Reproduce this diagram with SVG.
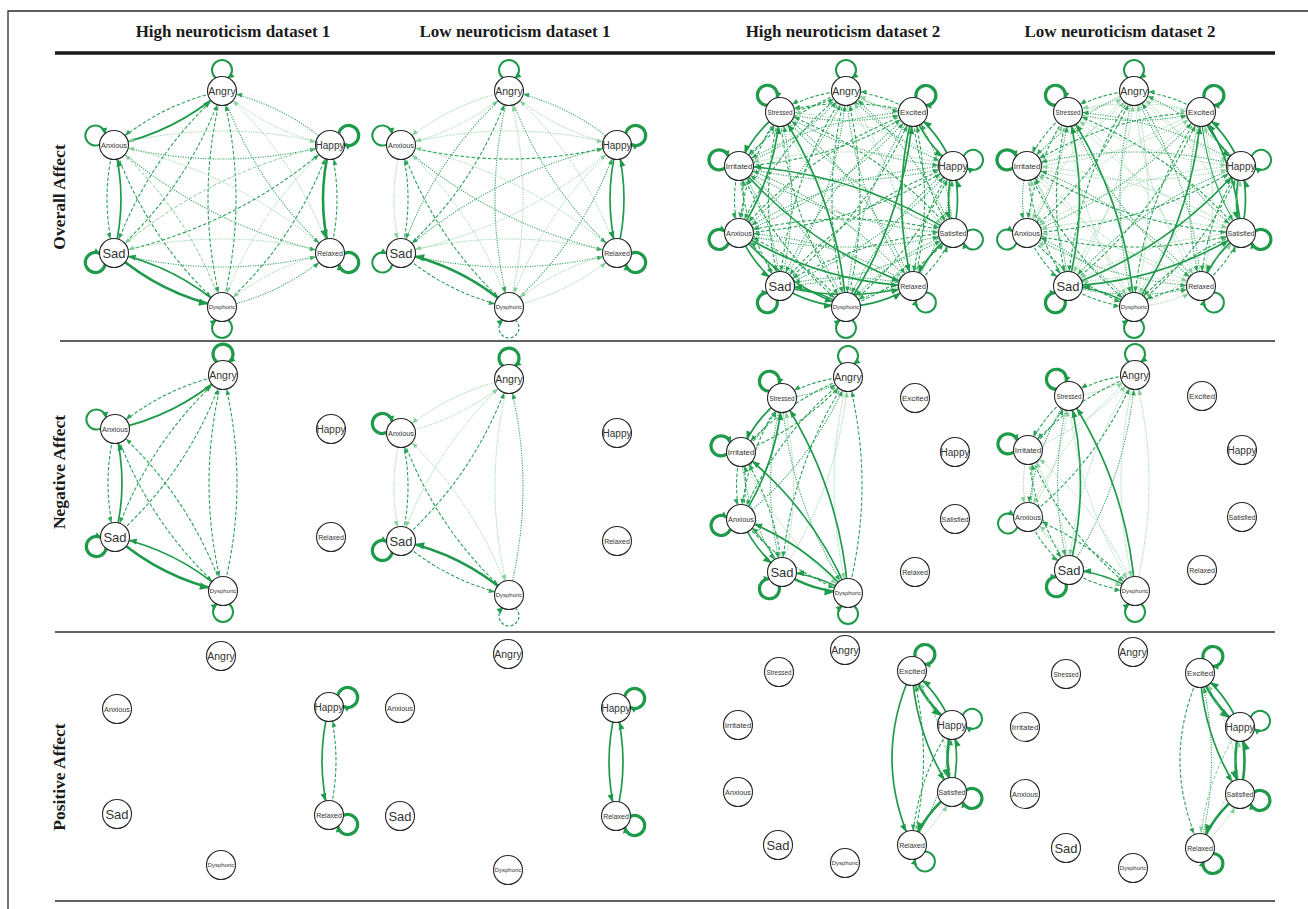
<svg xmlns="http://www.w3.org/2000/svg" width="1308" height="909" viewBox="0 0 1308 909">
<defs>
<style>
.hd{font-family:"Liberation Serif","Times New Roman",serif;font-weight:bold;font-size:17px;fill:#1a1a1a;text-anchor:middle}
.rl{font-family:"Liberation Serif","Times New Roman",serif;font-weight:bold;font-size:17.5px;fill:#1a1a1a;text-anchor:middle;dominant-baseline:central}
.fr{fill:none;stroke:#2b2b2b;stroke-width:1.3}
.tk{fill:none;stroke:#1a1a1a;stroke-width:3.4}
.nd circle{fill:#fff;stroke:#262626;stroke-width:1.1}
.nd text{font-family:"Liberation Sans",Arial,sans-serif;fill:#333;text-anchor:middle;dominant-baseline:central}
.an{font-size:10.5px}.sa{font-size:13px}.ha{font-size:10px}.ax{font-size:7.3px}.re{font-size:7px}.dy{font-size:6px}
.st{font-size:6.3px}.ex{font-size:8px}.ir{font-size:7.8px}.sf{font-size:7px}
.s3{fill:none;stroke:#1f9a4b;stroke-width:2.6;marker-end:url(#m3)}
.s2{fill:none;stroke:#1f9a4b;stroke-width:1.7;marker-end:url(#m2)}
.s1{fill:none;stroke:#2aa257;stroke-width:1.1;marker-end:url(#m1)}
.d{fill:none;stroke:#2aa257;stroke-width:1.1;stroke-dasharray:3.5 2;marker-end:url(#m1)}
.dl{fill:none;stroke:#7fcb95;stroke-width:1;stroke-dasharray:3.5 2;marker-end:url(#mL)}
.o{fill:none;stroke:#2aa257;stroke-width:1.1;stroke-dasharray:1.1 1.4;marker-end:url(#m1)}
.ol{fill:none;stroke:#86cf9c;stroke-width:1;stroke-dasharray:1.1 1.3;marker-end:url(#mL)}
.lt{fill:none;stroke:#1f9a4b;stroke-width:3.2;marker-end:url(#mlp)}
.lm{fill:none;stroke:#1f9a4b;stroke-width:2;marker-end:url(#mlp)}
.ld{fill:none;stroke:#2aa257;stroke-width:1.2;stroke-dasharray:3 2;marker-end:url(#mlp)}
</style>
<marker id="m1" markerUnits="userSpaceOnUse" orient="auto" overflow="visible" markerWidth="1" markerHeight="1" refX="0" refY="0"><path d="M-20.5,-2.3L-14.5,0L-20.5,2.3z" fill="#2aa257"/></marker>
<marker id="mL" markerUnits="userSpaceOnUse" orient="auto" overflow="visible" markerWidth="1" markerHeight="1" refX="0" refY="0"><path d="M-20.5,-2.3L-14.5,0L-20.5,2.3z" fill="#86cf9c"/></marker>
<marker id="m2" markerUnits="userSpaceOnUse" orient="auto" overflow="visible" markerWidth="1" markerHeight="1" refX="0" refY="0"><path d="M-22,-3L-14.5,0L-22,3z" fill="#1f9a4b"/></marker>
<marker id="m3" markerUnits="userSpaceOnUse" orient="auto" overflow="visible" markerWidth="1" markerHeight="1" refX="0" refY="0"><path d="M-23.5,-3.8L-14.5,0L-23.5,3.8z" fill="#1f9a4b"/></marker>
<marker id="mlp" markerUnits="userSpaceOnUse" orient="auto" overflow="visible" markerWidth="1" markerHeight="1" refX="0" refY="0"><path d="M-5.5,-3.2L0.5,0L-5.5,3.2z" fill="#1f9a4b"/></marker>
</defs>
<rect width="1308" height="909" fill="#fff"/>
<g id="frame">
<path class="fr" d="M8,909V11H1308"/>
<line class="tk" x1="55" y1="53" x2="1275" y2="53"/>
<line class="fr" x1="60" y1="341" x2="1275" y2="341"/>
<line class="fr" x1="55" y1="632" x2="1275" y2="632"/>
<line class="fr" x1="55" y1="901" x2="1275" y2="901"/>
</g>
<g id="headers">
<text class="hd" x="233" y="37">High neuroticism dataset 1</text>
<text class="hd" x="515" y="37">Low neuroticism dataset 1</text>
<text class="hd" x="843" y="37">High neuroticism dataset 2</text>
<text class="hd" x="1120" y="37">Low neuroticism dataset 2</text>
<text class="rl" transform="translate(59,197) rotate(-90)">Overall Affect</text>
<text class="rl" transform="translate(59,472) rotate(-90)">Negative Affect</text>
<text class="rl" transform="translate(59,777) rotate(-90)">Positive Affect</text>
</g>

<!-- Row 1, col 1 -->
<g id="panel-r1c1" transform="translate(222,199)">
<g id="r1c1-connectors">
<path class="d" d="M0,-108Q-61,-95 -108,-54"/>
<path class="s2" d="M-108,-54Q-47,-67 0,-108"/>
<path class="ol" d="M0,-108Q47,-67 108,-54"/>
<path class="o" d="M108,-54Q61,-95 0,-108"/>
<path class="d" d="M0,-108Q-75,-41 -108,54"/>
<path class="d" d="M-108,54Q-33,-13 0,-108"/>
<path class="o" d="M0,-108Q33,-13 108,54"/>
<path class="ol" d="M108,54Q75,-41 0,-108"/>
<path class="d" d="M0,-108Q-28,0 0,108"/>
<path class="d" d="M0,108Q28,0 0,-108"/>
<path class="o" d="M-108,-54Q0,-26 108,-54"/>
<path class="ol" d="M108,-54Q0,-82 -108,-54"/>
<path class="d" d="M-108,-54Q-122,0 -108,54"/>
<path class="s2" d="M-108,54Q-94,0 -108,-54"/>
<path class="o" d="M-108,-54Q-14,28 108,54"/>
<path class="ol" d="M108,54Q14,-28 -108,-54"/>
<path class="d" d="M-108,-54Q-75,41 0,108"/>
<path class="dl" d="M0,108Q-33,13 -108,-54"/>
<path class="dl" d="M108,-54Q-14,-28 -108,54"/>
<path class="d" d="M-108,54Q14,28 108,-54"/>
<path class="s3" d="M108,-54Q94,0 108,54"/>
<path class="d" d="M108,54Q122,0 108,-54"/>
<path class="ol" d="M108,-54Q33,13 0,108"/>
<path class="d" d="M0,108Q75,41 108,-54"/>
<path class="o" d="M-108,54Q0,82 108,54"/>
<path class="ol" d="M108,54Q0,26 -108,54"/>
<path class="s3" d="M-108,54Q-61,95 0,108"/>
<path class="s2" d="M0,108Q-47,67 -108,54"/>
<path class="ol" d="M108,54Q47,67 0,108"/>
<path class="o" d="M0,108Q61,95 108,54"/>
<path class="lm" transform="translate(0,-108) rotate(-90)" d="M13.1,-6.2A10 10 0 1 1 13.1,6.2"/>
<path class="lm" transform="translate(-108,-54) rotate(-153)" d="M13.1,-6.2A10 10 0 1 1 13.1,6.2"/>
<path class="lt" transform="translate(108,-54) rotate(-27)" d="M13.1,-6.2A10 10 0 1 1 13.1,6.2"/>
<path class="lt" transform="translate(-108,54) rotate(153)" d="M13.1,-6.2A10 10 0 1 1 13.1,6.2"/>
<path class="lt" transform="translate(108,54) rotate(27)" d="M13.1,-6.2A10 10 0 1 1 13.1,6.2"/>
<path class="lm" transform="translate(0,108) rotate(90)" d="M13.1,-6.2A10 10 0 1 1 13.1,6.2"/>
</g>
<g id="r1c1-angry" class="nd" transform="translate(0,-108)"><circle r="14.5"/><text class="an">Angry</text></g>
<g id="r1c1-anxious" class="nd" transform="translate(-108,-54)"><circle r="14.5"/><text class="ax">Anxious</text></g>
<g id="r1c1-happy" class="nd" transform="translate(108,-54)"><circle r="14.5"/><text class="ha">Happy</text></g>
<g id="r1c1-sad" class="nd" transform="translate(-108,54)"><circle r="14.5"/><text class="sa">Sad</text></g>
<g id="r1c1-relaxed" class="nd" transform="translate(108,54)"><circle r="14.5"/><text class="re">Relaxed</text></g>
<g id="r1c1-dysphoric" class="nd" transform="translate(0,108)"><circle r="14.5"/><text class="dy">Dysphoric</text></g>
</g>

<!-- Row 1, col 2 -->
<g id="panel-r1c2" transform="translate(509,199)">
<g id="r1c2-connectors">
<path class="ol" d="M0,-108Q-61,-95 -108,-54"/>
<path class="ol" d="M-108,-54Q-47,-67 0,-108"/>
<path class="ol" d="M0,-108Q47,-67 108,-54"/>
<path class="o" d="M108,-54Q61,-95 0,-108"/>
<path class="o" d="M0,-108Q-75,-41 -108,54"/>
<path class="d" d="M-108,54Q-33,-13 0,-108"/>
<path class="o" d="M0,-108Q33,-13 108,54"/>
<path class="ol" d="M108,54Q75,-41 0,-108"/>
<path class="o" d="M0,-108Q-28,0 0,108"/>
<path class="ol" d="M0,108Q28,0 0,-108"/>
<path class="d" d="M-108,-54Q0,-26 108,-54"/>
<path class="ol" d="M108,-54Q0,-82 -108,-54"/>
<path class="ol" d="M-108,-54Q-122,0 -108,54"/>
<path class="d" d="M-108,54Q-94,0 -108,-54"/>
<path class="o" d="M-108,-54Q-14,28 108,54"/>
<path class="ol" d="M108,54Q14,-28 -108,-54"/>
<path class="d" d="M-108,-54Q-75,41 0,108"/>
<path class="ol" d="M0,108Q-33,13 -108,-54"/>
<path class="o" d="M108,-54Q-14,-28 -108,54"/>
<path class="ol" d="M-108,54Q14,28 108,-54"/>
<path class="s2" d="M108,-54Q94,0 108,54"/>
<path class="s2" d="M108,54Q122,0 108,-54"/>
<path class="ol" d="M108,-54Q33,13 0,108"/>
<path class="o" d="M0,108Q75,41 108,-54"/>
<path class="o" d="M-108,54Q0,82 108,54"/>
<path class="ol" d="M108,54Q0,26 -108,54"/>
<path class="d" d="M-108,54Q-61,95 0,108"/>
<path class="s3" d="M0,108Q-47,67 -108,54"/>
<path class="ol" d="M108,54Q47,67 0,108"/>
<path class="ol" d="M0,108Q61,95 108,54"/>
<path class="lm" transform="translate(0,-108) rotate(-90)" d="M13.1,-6.2A10 10 0 1 1 13.1,6.2"/>
<path class="lm" transform="translate(-108,-54) rotate(-153)" d="M13.1,-6.2A10 10 0 1 1 13.1,6.2"/>
<path class="lt" transform="translate(108,-54) rotate(-27)" d="M13.1,-6.2A10 10 0 1 1 13.1,6.2"/>
<path class="lm" transform="translate(-108,54) rotate(153)" d="M13.1,-6.2A10 10 0 1 1 13.1,6.2"/>
<path class="lt" transform="translate(108,54) rotate(27)" d="M13.1,-6.2A10 10 0 1 1 13.1,6.2"/>
<path class="ld" transform="translate(0,108) rotate(90)" d="M13.1,-6.2A10 10 0 1 1 13.1,6.2"/>
</g>
<g id="r1c2-angry" class="nd" transform="translate(0,-108)"><circle r="14.5"/><text class="an">Angry</text></g>
<g id="r1c2-anxious" class="nd" transform="translate(-108,-54)"><circle r="14.5"/><text class="ax">Anxious</text></g>
<g id="r1c2-happy" class="nd" transform="translate(108,-54)"><circle r="14.5"/><text class="ha">Happy</text></g>
<g id="r1c2-sad" class="nd" transform="translate(-108,54)"><circle r="14.5"/><text class="sa">Sad</text></g>
<g id="r1c2-relaxed" class="nd" transform="translate(108,54)"><circle r="14.5"/><text class="re">Relaxed</text></g>
<g id="r1c2-dysphoric" class="nd" transform="translate(0,108)"><circle r="14.5"/><text class="dy">Dysphoric</text></g>
</g>

<!-- Row 1, col 3 -->
<g id="panel-r1c3" transform="translate(846,199)">
<g id="r1c3-connectors">
<path class="d" d="M0,-108Q-36,-106 -66,-87"/>
<path class="d" d="M-66,-87Q-30,-89 0,-108"/>
<path class="o" d="M0,-108Q31,-89 67,-87"/>
<path class="d" d="M67,-87Q36,-106 0,-108"/>
<path class="d" d="M0,-108Q-63,-84 -107,-33"/>
<path class="o" d="M-107,-33Q-44,-57 0,-108"/>
<path class="o" d="M0,-108Q44,-57 107,-33"/>
<path class="ol" d="M107,-33Q63,-84 0,-108"/>
<path class="d" d="M0,-108Q-72,-51 -107,34"/>
<path class="o" d="M-107,34Q-35,-23 0,-108"/>
<path class="ol" d="M0,-108Q35,-23 107,34"/>
<path class="o" d="M107,34Q72,-51 0,-108"/>
<path class="d" d="M0,-108Q-58,-19 -66,87"/>
<path class="o" d="M-66,87Q-8,-2 0,-108"/>
<path class="o" d="M0,-108Q8,-2 67,87"/>
<path class="ol" d="M67,87Q59,-19 0,-108"/>
<path class="d" d="M0,-108Q-28,0 0,108"/>
<path class="d" d="M0,108Q28,0 0,-108"/>
<path class="o" d="M-66,-87Q0,-70 67,-87"/>
<path class="d" d="M67,-87Q0,-104 -66,-87"/>
<path class="s2" d="M-66,-87Q-94,-65 -107,-33"/>
<path class="d" d="M-107,-33Q-80,-55 -66,-87"/>
<path class="o" d="M-66,-87Q14,-38 107,-33"/>
<path class="ol" d="M107,-33Q28,-83 -66,-87"/>
<path class="d" d="M-66,-87Q-102,-32 -107,34"/>
<path class="s2" d="M-107,34Q-71,-21 -66,-87"/>
<path class="o" d="M-66,-87Q5,-4 107,34"/>
<path class="d" d="M107,34Q36,-49 -66,-87"/>
<path class="d" d="M-66,-87Q-89,0 -66,87"/>
<path class="o" d="M-66,87Q-43,0 -66,-87"/>
<path class="ol" d="M-66,-87Q-22,17 67,87"/>
<path class="o" d="M67,87Q23,-17 -66,-87"/>
<path class="d" d="M-66,-87Q-58,19 0,108"/>
<path class="s2" d="M0,108Q-8,2 -66,-87"/>
<path class="o" d="M67,-87Q-27,-83 -107,-33"/>
<path class="d" d="M-107,-33Q-13,-37 67,-87"/>
<path class="s2" d="M67,-87Q80,-55 107,-33"/>
<path class="s2" d="M107,-33Q94,-65 67,-87"/>
<path class="d" d="M67,-87Q-36,-49 -107,34"/>
<path class="o" d="M-107,34Q-4,-4 67,-87"/>
<path class="d" d="M67,-87Q71,-21 107,34"/>
<path class="o" d="M107,34Q103,-32 67,-87"/>
<path class="o" d="M67,-87Q-22,-17 -66,87"/>
<path class="d" d="M-66,87Q23,17 67,-87"/>
<path class="s2" d="M67,-87Q44,0 67,87"/>
<path class="d" d="M67,87Q90,0 67,-87"/>
<path class="o" d="M67,-87Q8,2 0,108"/>
<path class="s2" d="M0,108Q59,19 67,-87"/>
<path class="o" d="M-107,-33Q0,-5 107,-33"/>
<path class="ol" d="M107,-33Q0,-61 -107,-33"/>
<path class="d" d="M-107,-33Q-116,0 -107,34"/>
<path class="d" d="M-107,34Q-98,0 -107,-33"/>
<path class="o" d="M-107,-33Q-9,28 107,34"/>
<path class="s2" d="M107,34Q9,-27 -107,-33"/>
<path class="d" d="M-107,-33Q-102,32 -66,87"/>
<path class="o" d="M-66,87Q-71,22 -107,-33"/>
<path class="s2" d="M-107,-33Q-36,50 67,87"/>
<path class="o" d="M67,87Q-4,4 -107,-33"/>
<path class="d" d="M-107,-33Q-72,51 0,108"/>
<path class="o" d="M0,108Q-35,24 -107,-33"/>
<path class="o" d="M107,-33Q-9,-27 -107,34"/>
<path class="d" d="M-107,34Q9,28 107,-33"/>
<path class="s2" d="M107,-33Q98,0 107,34"/>
<path class="s2" d="M107,34Q116,0 107,-33"/>
<path class="d" d="M107,-33Q5,4 -66,87"/>
<path class="o" d="M-66,87Q36,50 107,-33"/>
<path class="d" d="M107,-33Q71,22 67,87"/>
<path class="o" d="M67,87Q103,32 107,-33"/>
<path class="o" d="M107,-33Q35,24 0,108"/>
<path class="d" d="M0,108Q72,51 107,-33"/>
<path class="o" d="M-107,34Q0,62 107,34"/>
<path class="d" d="M107,34Q0,6 -107,34"/>
<path class="s2" d="M-107,34Q-93,66 -66,87"/>
<path class="d" d="M-66,87Q-80,55 -107,34"/>
<path class="s2" d="M-107,34Q-27,83 67,87"/>
<path class="o" d="M67,87Q-13,38 -107,34"/>
<path class="s2" d="M-107,34Q-63,85 0,108"/>
<path class="d" d="M0,108Q-44,57 -107,34"/>
<path class="d" d="M107,34Q14,38 -66,87"/>
<path class="o" d="M-66,87Q27,83 107,34"/>
<path class="s2" d="M107,34Q80,55 67,87"/>
<path class="d" d="M67,87Q94,66 107,34"/>
<path class="o" d="M107,34Q44,57 0,108"/>
<path class="d" d="M0,108Q63,85 107,34"/>
<path class="s2" d="M-66,87Q0,104 67,87"/>
<path class="o" d="M67,87Q0,70 -66,87"/>
<path class="s2" d="M-66,87Q-36,106 0,108"/>
<path class="s2" d="M0,108Q-30,89 -66,87"/>
<path class="o" d="M67,87Q31,89 0,108"/>
<path class="s2" d="M0,108Q36,106 67,87"/>
<path class="lm" transform="translate(0,-108) rotate(-90)" d="M13.1,-6.2A10 10 0 1 1 13.1,6.2"/>
<path class="lt" transform="translate(-66,-87) rotate(-127)" d="M13.1,-6.2A10 10 0 1 1 13.1,6.2"/>
<path class="lt" transform="translate(67,-87) rotate(-52)" d="M13.1,-6.2A10 10 0 1 1 13.1,6.2"/>
<path class="lt" transform="translate(-107,-33) rotate(-163)" d="M13.1,-6.2A10 10 0 1 1 13.1,6.2"/>
<path class="lm" transform="translate(107,-33) rotate(-17)" d="M13.1,-6.2A10 10 0 1 1 13.1,6.2"/>
<path class="lt" transform="translate(-107,34) rotate(162)" d="M13.1,-6.2A10 10 0 1 1 13.1,6.2"/>
<path class="lm" transform="translate(107,34) rotate(18)" d="M13.1,-6.2A10 10 0 1 1 13.1,6.2"/>
<path class="lt" transform="translate(-66,87) rotate(127)" d="M13.1,-6.2A10 10 0 1 1 13.1,6.2"/>
<path class="lm" transform="translate(67,87) rotate(52)" d="M13.1,-6.2A10 10 0 1 1 13.1,6.2"/>
<path class="lm" transform="translate(0,108) rotate(90)" d="M13.1,-6.2A10 10 0 1 1 13.1,6.2"/>
</g>
<g id="r1c3-angry" class="nd" transform="translate(0,-108)"><circle r="14.5"/><text class="an">Angry</text></g>
<g id="r1c3-stressed" class="nd" transform="translate(-66,-87)"><circle r="14.5"/><text class="st">Stressed</text></g>
<g id="r1c3-excited" class="nd" transform="translate(67,-87)"><circle r="14.5"/><text class="ex">Excited</text></g>
<g id="r1c3-irritated" class="nd" transform="translate(-107,-33)"><circle r="14.5"/><text class="ir">Irritated</text></g>
<g id="r1c3-happy" class="nd" transform="translate(107,-33)"><circle r="14.5"/><text class="ha">Happy</text></g>
<g id="r1c3-anxious" class="nd" transform="translate(-107,34)"><circle r="14.5"/><text class="ax">Anxious</text></g>
<g id="r1c3-satisfied" class="nd" transform="translate(107,34)"><circle r="14.5"/><text class="sf">Satisfied</text></g>
<g id="r1c3-sad" class="nd" transform="translate(-66,87)"><circle r="14.5"/><text class="sa">Sad</text></g>
<g id="r1c3-relaxed" class="nd" transform="translate(67,87)"><circle r="14.5"/><text class="re">Relaxed</text></g>
<g id="r1c3-dysphoric" class="nd" transform="translate(0,108)"><circle r="14.5"/><text class="dy">Dysphoric</text></g>
</g>

<!-- Row 1, col 4 -->
<g id="panel-r1c4" transform="translate(1134,199)">
<g id="r1c4-connectors">
<path class="d" d="M0,-108Q-36,-106 -66,-87"/>
<path class="ol" d="M-66,-87Q-30,-89 0,-108"/>
<path class="ol" d="M0,-108Q31,-89 67,-87"/>
<path class="d" d="M67,-87Q36,-106 0,-108"/>
<path class="o" d="M0,-108Q-63,-84 -107,-33"/>
<path class="ol" d="M-107,-33Q-44,-57 0,-108"/>
<path class="ol" d="M0,-108Q44,-57 107,-33"/>
<path class="o" d="M107,-33Q63,-84 0,-108"/>
<path class="ol" d="M0,-108Q-72,-51 -107,34"/>
<path class="d" d="M-107,34Q-35,-23 0,-108"/>
<path class="o" d="M0,-108Q35,-23 107,34"/>
<path class="ol" d="M107,34Q72,-51 0,-108"/>
<path class="d" d="M0,-108Q-58,-19 -66,87"/>
<path class="ol" d="M-66,87Q-8,-2 0,-108"/>
<path class="ol" d="M0,-108Q8,-2 67,87"/>
<path class="o" d="M67,87Q59,-19 0,-108"/>
<path class="o" d="M0,-108Q-28,0 0,108"/>
<path class="ol" d="M0,108Q28,0 0,-108"/>
<path class="o" d="M-66,-87Q0,-70 67,-87"/>
<path class="ol" d="M67,-87Q0,-104 -66,-87"/>
<path class="d" d="M-66,-87Q-94,-65 -107,-33"/>
<path class="ol" d="M-107,-33Q-80,-55 -66,-87"/>
<path class="ol" d="M-66,-87Q14,-38 107,-33"/>
<path class="o" d="M107,-33Q28,-83 -66,-87"/>
<path class="d" d="M-66,-87Q-102,-32 -107,34"/>
<path class="o" d="M-107,34Q-71,-21 -66,-87"/>
<path class="ol" d="M-66,-87Q5,-4 107,34"/>
<path class="d" d="M107,34Q36,-49 -66,-87"/>
<path class="d" d="M-66,-87Q-89,0 -66,87"/>
<path class="s2" d="M-66,87Q-43,0 -66,-87"/>
<path class="o" d="M-66,-87Q-22,17 67,87"/>
<path class="ol" d="M67,87Q23,-17 -66,-87"/>
<path class="ol" d="M-66,-87Q-58,19 0,108"/>
<path class="s2" d="M0,108Q-8,2 -66,-87"/>
<path class="d" d="M67,-87Q-27,-83 -107,-33"/>
<path class="ol" d="M-107,-33Q-13,-37 67,-87"/>
<path class="s2" d="M67,-87Q80,-55 107,-33"/>
<path class="s2" d="M107,-33Q94,-65 67,-87"/>
<path class="ol" d="M67,-87Q-36,-49 -107,34"/>
<path class="o" d="M-107,34Q-4,-4 67,-87"/>
<path class="s1" d="M67,-87Q71,-21 107,34"/>
<path class="s2" d="M107,34Q103,-32 67,-87"/>
<path class="ol" d="M67,-87Q-22,-17 -66,87"/>
<path class="d" d="M-66,87Q23,17 67,-87"/>
<path class="o" d="M67,-87Q44,0 67,87"/>
<path class="ol" d="M67,87Q90,0 67,-87"/>
<path class="d" d="M67,-87Q8,2 0,108"/>
<path class="s2" d="M0,108Q59,19 67,-87"/>
<path class="ol" d="M-107,-33Q0,-5 107,-33"/>
<path class="o" d="M107,-33Q0,-61 -107,-33"/>
<path class="o" d="M-107,-33Q-116,0 -107,34"/>
<path class="ol" d="M-107,34Q-98,0 -107,-33"/>
<path class="d" d="M-107,-33Q-9,28 107,34"/>
<path class="ol" d="M107,34Q9,-27 -107,-33"/>
<path class="d" d="M-107,-33Q-102,32 -66,87"/>
<path class="o" d="M-66,87Q-71,22 -107,-33"/>
<path class="ol" d="M-107,-33Q-36,50 67,87"/>
<path class="o" d="M67,87Q-4,4 -107,-33"/>
<path class="d" d="M-107,-33Q-72,51 0,108"/>
<path class="ol" d="M0,108Q-35,24 -107,-33"/>
<path class="ol" d="M107,-33Q-9,-27 -107,34"/>
<path class="d" d="M-107,34Q9,28 107,-33"/>
<path class="s2" d="M107,-33Q98,0 107,34"/>
<path class="s2" d="M107,34Q116,0 107,-33"/>
<path class="o" d="M107,-33Q5,4 -66,87"/>
<path class="s2" d="M-66,87Q36,50 107,-33"/>
<path class="d" d="M107,-33Q71,22 67,87"/>
<path class="ol" d="M67,87Q103,32 107,-33"/>
<path class="ol" d="M107,-33Q35,24 0,108"/>
<path class="d" d="M0,108Q72,51 107,-33"/>
<path class="d" d="M-107,34Q0,62 107,34"/>
<path class="ol" d="M107,34Q0,6 -107,34"/>
<path class="d" d="M-107,34Q-93,66 -66,87"/>
<path class="ol" d="M-66,87Q-80,55 -107,34"/>
<path class="o" d="M-107,34Q-27,83 67,87"/>
<path class="ol" d="M67,87Q-13,38 -107,34"/>
<path class="d" d="M-107,34Q-63,85 0,108"/>
<path class="o" d="M0,108Q-44,57 -107,34"/>
<path class="ol" d="M107,34Q14,38 -66,87"/>
<path class="s2" d="M-66,87Q27,83 107,34"/>
<path class="s2" d="M107,34Q80,55 67,87"/>
<path class="d" d="M67,87Q94,66 107,34"/>
<path class="d" d="M107,34Q44,57 0,108"/>
<path class="ol" d="M0,108Q63,85 107,34"/>
<path class="o" d="M-66,87Q0,104 67,87"/>
<path class="ol" d="M67,87Q0,70 -66,87"/>
<path class="d" d="M-66,87Q-36,106 0,108"/>
<path class="s2" d="M0,108Q-30,89 -66,87"/>
<path class="d" d="M67,87Q31,89 0,108"/>
<path class="ol" d="M0,108Q36,106 67,87"/>
<path class="lm" transform="translate(0,-108) rotate(-90)" d="M13.1,-6.2A10 10 0 1 1 13.1,6.2"/>
<path class="lt" transform="translate(-66,-87) rotate(-127)" d="M13.1,-6.2A10 10 0 1 1 13.1,6.2"/>
<path class="lt" transform="translate(67,-87) rotate(-52)" d="M13.1,-6.2A10 10 0 1 1 13.1,6.2"/>
<path class="lt" transform="translate(-107,-33) rotate(-163)" d="M13.1,-6.2A10 10 0 1 1 13.1,6.2"/>
<path class="lm" transform="translate(107,-33) rotate(-17)" d="M13.1,-6.2A10 10 0 1 1 13.1,6.2"/>
<path class="lm" transform="translate(-107,34) rotate(162)" d="M13.1,-6.2A10 10 0 1 1 13.1,6.2"/>
<path class="lt" transform="translate(107,34) rotate(18)" d="M13.1,-6.2A10 10 0 1 1 13.1,6.2"/>
<path class="lt" transform="translate(-66,87) rotate(127)" d="M13.1,-6.2A10 10 0 1 1 13.1,6.2"/>
<path class="lm" transform="translate(67,87) rotate(52)" d="M13.1,-6.2A10 10 0 1 1 13.1,6.2"/>
<path class="lm" transform="translate(0,108) rotate(90)" d="M13.1,-6.2A10 10 0 1 1 13.1,6.2"/>
</g>
<g id="r1c4-angry" class="nd" transform="translate(0,-108)"><circle r="14.5"/><text class="an">Angry</text></g>
<g id="r1c4-stressed" class="nd" transform="translate(-66,-87)"><circle r="14.5"/><text class="st">Stressed</text></g>
<g id="r1c4-excited" class="nd" transform="translate(67,-87)"><circle r="14.5"/><text class="ex">Excited</text></g>
<g id="r1c4-irritated" class="nd" transform="translate(-107,-33)"><circle r="14.5"/><text class="ir">Irritated</text></g>
<g id="r1c4-happy" class="nd" transform="translate(107,-33)"><circle r="14.5"/><text class="ha">Happy</text></g>
<g id="r1c4-anxious" class="nd" transform="translate(-107,34)"><circle r="14.5"/><text class="ax">Anxious</text></g>
<g id="r1c4-satisfied" class="nd" transform="translate(107,34)"><circle r="14.5"/><text class="sf">Satisfied</text></g>
<g id="r1c4-sad" class="nd" transform="translate(-66,87)"><circle r="14.5"/><text class="sa">Sad</text></g>
<g id="r1c4-relaxed" class="nd" transform="translate(67,87)"><circle r="14.5"/><text class="re">Relaxed</text></g>
<g id="r1c4-dysphoric" class="nd" transform="translate(0,108)"><circle r="14.5"/><text class="dy">Dysphoric</text></g>
</g>

<!-- Row 2, col 1 -->
<g id="panel-r2c1" transform="translate(223,483)">
<g id="r2c1-connectors">
<path class="d" d="M0,-108Q-61,-95 -108,-54"/>
<path class="s2" d="M-108,-54Q-47,-67 0,-108"/>
<path class="d" d="M0,-108Q-75,-41 -108,54"/>
<path class="d" d="M-108,54Q-33,-13 0,-108"/>
<path class="d" d="M0,-108Q-28,0 0,108"/>
<path class="d" d="M0,108Q28,0 0,-108"/>
<path class="d" d="M-108,-54Q-122,0 -108,54"/>
<path class="s2" d="M-108,54Q-94,0 -108,-54"/>
<path class="d" d="M-108,-54Q-75,41 0,108"/>
<path class="d" d="M0,108Q-33,13 -108,-54"/>
<path class="s3" d="M-108,54Q-61,95 0,108"/>
<path class="s2" d="M0,108Q-47,67 -108,54"/>
<path class="lt" transform="translate(0,-108) rotate(-90)" d="M13.1,-6.2A10 10 0 1 1 13.1,6.2"/>
<path class="lm" transform="translate(-108,-54) rotate(-153)" d="M13.1,-6.2A10 10 0 1 1 13.1,6.2"/>
<path class="lt" transform="translate(-108,54) rotate(153)" d="M13.1,-6.2A10 10 0 1 1 13.1,6.2"/>
<path class="lm" transform="translate(0,108) rotate(90)" d="M13.1,-6.2A10 10 0 1 1 13.1,6.2"/>
</g>
<g id="r2c1-angry" class="nd" transform="translate(0,-108)"><circle r="14.5"/><text class="an">Angry</text></g>
<g id="r2c1-anxious" class="nd" transform="translate(-108,-54)"><circle r="14.5"/><text class="ax">Anxious</text></g>
<g id="r2c1-happy" class="nd" transform="translate(108,-54)"><circle r="14.5"/><text class="ha">Happy</text></g>
<g id="r2c1-sad" class="nd" transform="translate(-108,54)"><circle r="14.5"/><text class="sa">Sad</text></g>
<g id="r2c1-relaxed" class="nd" transform="translate(108,54)"><circle r="14.5"/><text class="re">Relaxed</text></g>
<g id="r2c1-dysphoric" class="nd" transform="translate(0,108)"><circle r="14.5"/><text class="dy">Dysphoric</text></g>
</g>

<!-- Row 2, col 2 -->
<g id="panel-r2c2" transform="translate(509,487)">
<g id="r2c2-connectors">
<path class="ol" d="M0,-108Q-61,-95 -108,-54"/>
<path class="ol" d="M-108,-54Q-47,-67 0,-108"/>
<path class="ol" d="M0,-108Q-75,-41 -108,54"/>
<path class="d" d="M-108,54Q-33,-13 0,-108"/>
<path class="ol" d="M0,-108Q-28,0 0,108"/>
<path class="o" d="M0,108Q28,0 0,-108"/>
<path class="ol" d="M-108,-54Q-122,0 -108,54"/>
<path class="d" d="M-108,54Q-94,0 -108,-54"/>
<path class="d" d="M-108,-54Q-75,41 0,108"/>
<path class="ol" d="M0,108Q-33,13 -108,-54"/>
<path class="d" d="M-108,54Q-61,95 0,108"/>
<path class="s3" d="M0,108Q-47,67 -108,54"/>
<path class="lt" transform="translate(0,-108) rotate(-90)" d="M13.1,-6.2A10 10 0 1 1 13.1,6.2"/>
<path class="lt" transform="translate(-108,-54) rotate(-153)" d="M13.1,-6.2A10 10 0 1 1 13.1,6.2"/>
<path class="lt" transform="translate(-108,54) rotate(153)" d="M13.1,-6.2A10 10 0 1 1 13.1,6.2"/>
<path class="ld" transform="translate(0,108) rotate(90)" d="M13.1,-6.2A10 10 0 1 1 13.1,6.2"/>
</g>
<g id="r2c2-angry" class="nd" transform="translate(0,-108)"><circle r="14.5"/><text class="an">Angry</text></g>
<g id="r2c2-anxious" class="nd" transform="translate(-108,-54)"><circle r="14.5"/><text class="ax">Anxious</text></g>
<g id="r2c2-happy" class="nd" transform="translate(108,-54)"><circle r="14.5"/><text class="ha">Happy</text></g>
<g id="r2c2-sad" class="nd" transform="translate(-108,54)"><circle r="14.5"/><text class="sa">Sad</text></g>
<g id="r2c2-relaxed" class="nd" transform="translate(108,54)"><circle r="14.5"/><text class="re">Relaxed</text></g>
<g id="r2c2-dysphoric" class="nd" transform="translate(0,108)"><circle r="14.5"/><text class="dy">Dysphoric</text></g>
</g>

<!-- Row 2, col 3 -->
<g id="panel-r2c3" transform="translate(848,485)">
<g id="r2c3-connectors">
<path class="d" d="M0,-108Q-36,-106 -66,-87"/>
<path class="o" d="M-66,-87Q-30,-89 0,-108"/>
<path class="d" d="M0,-108Q-63,-84 -107,-33"/>
<path class="d" d="M-107,-33Q-44,-57 0,-108"/>
<path class="d" d="M0,-108Q-72,-51 -107,34"/>
<path class="o" d="M-107,34Q-35,-23 0,-108"/>
<path class="d" d="M0,-108Q-58,-19 -66,87"/>
<path class="ol" d="M-66,87Q-8,-2 0,-108"/>
<path class="ol" d="M0,-108Q-28,0 0,108"/>
<path class="d" d="M0,108Q28,0 0,-108"/>
<path class="s2" d="M-66,-87Q-94,-65 -107,-33"/>
<path class="d" d="M-107,-33Q-80,-55 -66,-87"/>
<path class="d" d="M-66,-87Q-102,-32 -107,34"/>
<path class="s2" d="M-107,34Q-71,-21 -66,-87"/>
<path class="o" d="M-66,-87Q-89,0 -66,87"/>
<path class="ol" d="M-66,87Q-43,0 -66,-87"/>
<path class="o" d="M-66,-87Q-58,19 0,108"/>
<path class="s2" d="M0,108Q-8,2 -66,-87"/>
<path class="d" d="M-107,-33Q-116,0 -107,34"/>
<path class="d" d="M-107,34Q-98,0 -107,-33"/>
<path class="o" d="M-107,-33Q-102,32 -66,87"/>
<path class="d" d="M-66,87Q-71,22 -107,-33"/>
<path class="ol" d="M-107,-33Q-72,51 0,108"/>
<path class="s2" d="M0,108Q-35,24 -107,-33"/>
<path class="s2" d="M-107,34Q-93,66 -66,87"/>
<path class="s1" d="M-66,87Q-80,55 -107,34"/>
<path class="d" d="M-107,34Q-63,85 0,108"/>
<path class="s2" d="M0,108Q-44,57 -107,34"/>
<path class="s3" d="M-66,87Q-36,106 0,108"/>
<path class="s2" d="M0,108Q-30,89 -66,87"/>
<path class="lm" transform="translate(0,-108) rotate(-90)" d="M13.1,-6.2A10 10 0 1 1 13.1,6.2"/>
<path class="lt" transform="translate(-66,-87) rotate(-127)" d="M13.1,-6.2A10 10 0 1 1 13.1,6.2"/>
<path class="lt" transform="translate(-107,-33) rotate(-163)" d="M13.1,-6.2A10 10 0 1 1 13.1,6.2"/>
<path class="lt" transform="translate(-107,34) rotate(162)" d="M13.1,-6.2A10 10 0 1 1 13.1,6.2"/>
<path class="lt" transform="translate(-66,87) rotate(127)" d="M13.1,-6.2A10 10 0 1 1 13.1,6.2"/>
<path class="lm" transform="translate(0,108) rotate(90)" d="M13.1,-6.2A10 10 0 1 1 13.1,6.2"/>
</g>
<g id="r2c3-angry" class="nd" transform="translate(0,-108)"><circle r="14.5"/><text class="an">Angry</text></g>
<g id="r2c3-stressed" class="nd" transform="translate(-66,-87)"><circle r="14.5"/><text class="st">Stressed</text></g>
<g id="r2c3-excited" class="nd" transform="translate(67,-87)"><circle r="14.5"/><text class="ex">Excited</text></g>
<g id="r2c3-irritated" class="nd" transform="translate(-107,-33)"><circle r="14.5"/><text class="ir">Irritated</text></g>
<g id="r2c3-happy" class="nd" transform="translate(107,-33)"><circle r="14.5"/><text class="ha">Happy</text></g>
<g id="r2c3-anxious" class="nd" transform="translate(-107,34)"><circle r="14.5"/><text class="ax">Anxious</text></g>
<g id="r2c3-satisfied" class="nd" transform="translate(107,34)"><circle r="14.5"/><text class="sf">Satisfied</text></g>
<g id="r2c3-sad" class="nd" transform="translate(-66,87)"><circle r="14.5"/><text class="sa">Sad</text></g>
<g id="r2c3-relaxed" class="nd" transform="translate(67,87)"><circle r="14.5"/><text class="re">Relaxed</text></g>
<g id="r2c3-dysphoric" class="nd" transform="translate(0,108)"><circle r="14.5"/><text class="dy">Dysphoric</text></g>
</g>

<!-- Row 2, col 4 -->
<g id="panel-r2c4" transform="translate(1135,483)">
<g id="r2c4-connectors">
<path class="d" d="M0,-108Q-36,-106 -66,-87"/>
<path class="ol" d="M-66,-87Q-30,-89 0,-108"/>
<path class="d" d="M0,-108Q-63,-84 -107,-33"/>
<path class="ol" d="M-107,-33Q-44,-57 0,-108"/>
<path class="ol" d="M0,-108Q-72,-51 -107,34"/>
<path class="d" d="M-107,34Q-35,-23 0,-108"/>
<path class="ol" d="M0,-108Q-58,-19 -66,87"/>
<path class="o" d="M-66,87Q-8,-2 0,-108"/>
<path class="ol" d="M0,-108Q-28,0 0,108"/>
<path class="ol" d="M0,108Q28,0 0,-108"/>
<path class="d" d="M-66,-87Q-94,-65 -107,-33"/>
<path class="d" d="M-107,-33Q-80,-55 -66,-87"/>
<path class="o" d="M-66,-87Q-102,-32 -107,34"/>
<path class="ol" d="M-107,34Q-71,-21 -66,-87"/>
<path class="o" d="M-66,-87Q-89,0 -66,87"/>
<path class="s2" d="M-66,87Q-43,0 -66,-87"/>
<path class="ol" d="M-66,-87Q-58,19 0,108"/>
<path class="s2" d="M0,108Q-8,2 -66,-87"/>
<path class="ol" d="M-107,-33Q-116,0 -107,34"/>
<path class="o" d="M-107,34Q-98,0 -107,-33"/>
<path class="d" d="M-107,-33Q-102,32 -66,87"/>
<path class="ol" d="M-66,87Q-71,22 -107,-33"/>
<path class="d" d="M-107,-33Q-72,51 0,108"/>
<path class="ol" d="M0,108Q-35,24 -107,-33"/>
<path class="d" d="M-107,34Q-93,66 -66,87"/>
<path class="ol" d="M-66,87Q-80,55 -107,34"/>
<path class="ol" d="M-107,34Q-63,85 0,108"/>
<path class="d" d="M0,108Q-44,57 -107,34"/>
<path class="d" d="M-66,87Q-36,106 0,108"/>
<path class="s2" d="M0,108Q-30,89 -66,87"/>
<path class="lm" transform="translate(0,-108) rotate(-90)" d="M13.1,-6.2A10 10 0 1 1 13.1,6.2"/>
<path class="lt" transform="translate(-66,-87) rotate(-127)" d="M13.1,-6.2A10 10 0 1 1 13.1,6.2"/>
<path class="lt" transform="translate(-107,-33) rotate(-163)" d="M13.1,-6.2A10 10 0 1 1 13.1,6.2"/>
<path class="lm" transform="translate(-107,34) rotate(162)" d="M13.1,-6.2A10 10 0 1 1 13.1,6.2"/>
<path class="lt" transform="translate(-66,87) rotate(127)" d="M13.1,-6.2A10 10 0 1 1 13.1,6.2"/>
<path class="lm" transform="translate(0,108) rotate(90)" d="M13.1,-6.2A10 10 0 1 1 13.1,6.2"/>
</g>
<g id="r2c4-angry" class="nd" transform="translate(0,-108)"><circle r="14.5"/><text class="an">Angry</text></g>
<g id="r2c4-stressed" class="nd" transform="translate(-66,-87)"><circle r="14.5"/><text class="st">Stressed</text></g>
<g id="r2c4-excited" class="nd" transform="translate(67,-87)"><circle r="14.5"/><text class="ex">Excited</text></g>
<g id="r2c4-irritated" class="nd" transform="translate(-107,-33)"><circle r="14.5"/><text class="ir">Irritated</text></g>
<g id="r2c4-happy" class="nd" transform="translate(107,-33)"><circle r="14.5"/><text class="ha">Happy</text></g>
<g id="r2c4-anxious" class="nd" transform="translate(-107,34)"><circle r="14.5"/><text class="ax">Anxious</text></g>
<g id="r2c4-satisfied" class="nd" transform="translate(107,34)"><circle r="14.5"/><text class="sf">Satisfied</text></g>
<g id="r2c4-sad" class="nd" transform="translate(-66,87)"><circle r="14.5"/><text class="sa">Sad</text></g>
<g id="r2c4-relaxed" class="nd" transform="translate(67,87)"><circle r="14.5"/><text class="re">Relaxed</text></g>
<g id="r2c4-dysphoric" class="nd" transform="translate(0,108)"><circle r="14.5"/><text class="dy">Dysphoric</text></g>
</g>

<!-- Row 3, col 1 -->
<g id="panel-r3c1" transform="translate(221,761)">
<g id="r3c1-connectors">
<path class="s2" d="M108,-54Q94,0 108,54"/>
<path class="d" d="M108,54Q122,0 108,-54"/>
<path class="lt" transform="translate(108,-54) rotate(-27)" d="M13.1,-6.2A10 10 0 1 1 13.1,6.2"/>
<path class="lt" transform="translate(108,54) rotate(27)" d="M13.1,-6.2A10 10 0 1 1 13.1,6.2"/>
</g>
<g id="r3c1-angry" class="nd" transform="translate(0,-105)"><circle r="14.5"/><text class="an">Angry</text></g>
<g id="r3c1-anxious" class="nd" transform="translate(-104,-52)"><circle r="14.5"/><text class="ax">Anxious</text></g>
<g id="r3c1-happy" class="nd" transform="translate(108,-54)"><circle r="14.5"/><text class="ha">Happy</text></g>
<g id="r3c1-sad" class="nd" transform="translate(-104,53)"><circle r="14.5"/><text class="sa">Sad</text></g>
<g id="r3c1-relaxed" class="nd" transform="translate(108,54)"><circle r="14.5"/><text class="re">Relaxed</text></g>
<g id="r3c1-dysphoric" class="nd" transform="translate(0,104)"><circle r="14.5"/><text class="dy">Dysphoric</text></g>
</g>

<!-- Row 3, col 2 -->
<g id="panel-r3c2" transform="translate(508,762)">
<g id="r3c2-connectors">
<path class="s2" d="M108,-54Q94,0 108,54"/>
<path class="s2" d="M108,54Q122,0 108,-54"/>
<path class="lt" transform="translate(108,-54) rotate(-27)" d="M13.1,-6.2A10 10 0 1 1 13.1,6.2"/>
<path class="lt" transform="translate(108,54) rotate(27)" d="M13.1,-6.2A10 10 0 1 1 13.1,6.2"/>
</g>
<g id="r3c2-angry" class="nd" transform="translate(0,-108)"><circle r="14.5"/><text class="an">Angry</text></g>
<g id="r3c2-anxious" class="nd" transform="translate(-108,-54)"><circle r="14.5"/><text class="ax">Anxious</text></g>
<g id="r3c2-happy" class="nd" transform="translate(108,-54)"><circle r="14.5"/><text class="ha">Happy</text></g>
<g id="r3c2-sad" class="nd" transform="translate(-108,54)"><circle r="14.5"/><text class="sa">Sad</text></g>
<g id="r3c2-relaxed" class="nd" transform="translate(108,54)"><circle r="14.5"/><text class="re">Relaxed</text></g>
<g id="r3c2-dysphoric" class="nd" transform="translate(0,108)"><circle r="14.5"/><text class="dy">Dysphoric</text></g>
</g>

<!-- Row 3, col 3 -->
<g id="panel-r3c3" transform="translate(845,758)">
<g id="r3c3-connectors">
<path class="s3" d="M67,-87Q80,-55 107,-33"/>
<path class="s2" d="M107,-33Q94,-65 67,-87"/>
<path class="s2" d="M67,-87Q71,-21 107,34"/>
<path class="dl" d="M107,34Q103,-32 67,-87"/>
<path class="s2" d="M67,-87Q27,0 67,87"/>
<path class="d" d="M67,87Q90,0 67,-87"/>
<path class="s3" d="M107,-33Q98,0 107,34"/>
<path class="s2" d="M107,34Q116,0 107,-33"/>
<path class="d" d="M107,-33Q71,22 67,87"/>
<path class="o" d="M67,87Q103,32 107,-33"/>
<path class="s3" d="M107,34Q80,55 67,87"/>
<path class="ol" d="M67,87Q94,66 107,34"/>
<path class="lt" transform="translate(67,-87) rotate(-52)" d="M13.1,-6.2A10 10 0 1 1 13.1,6.2"/>
<path class="lm" transform="translate(107,-33) rotate(-17)" d="M13.1,-6.2A10 10 0 1 1 13.1,6.2"/>
<path class="lt" transform="translate(107,34) rotate(18)" d="M13.1,-6.2A10 10 0 1 1 13.1,6.2"/>
<path class="lm" transform="translate(67,87) rotate(52)" d="M13.1,-6.2A10 10 0 1 1 13.1,6.2"/>
</g>
<g id="r3c3-angry" class="nd" transform="translate(0,-108)"><circle r="14.5"/><text class="an">Angry</text></g>
<g id="r3c3-stressed" class="nd" transform="translate(-66,-86)"><circle r="14.5"/><text class="st">Stressed</text></g>
<g id="r3c3-excited" class="nd" transform="translate(67,-87)"><circle r="14.5"/><text class="ex">Excited</text></g>
<g id="r3c3-irritated" class="nd" transform="translate(-107,-33)"><circle r="14.5"/><text class="ir">Irritated</text></g>
<g id="r3c3-happy" class="nd" transform="translate(107,-33)"><circle r="14.5"/><text class="ha">Happy</text></g>
<g id="r3c3-anxious" class="nd" transform="translate(-107,34)"><circle r="14.5"/><text class="ax">Anxious</text></g>
<g id="r3c3-satisfied" class="nd" transform="translate(107,34)"><circle r="14.5"/><text class="sf">Satisfied</text></g>
<g id="r3c3-sad" class="nd" transform="translate(-67,87)"><circle r="14.5"/><text class="sa">Sad</text></g>
<g id="r3c3-relaxed" class="nd" transform="translate(67,87)"><circle r="14.5"/><text class="re">Relaxed</text></g>
<g id="r3c3-dysphoric" class="nd" transform="translate(0,105)"><circle r="14.5"/><text class="dy">Dysphoric</text></g>
</g>

<!-- Row 3, col 4 -->
<g id="panel-r3c4" transform="translate(1133,760)">
<g id="r3c4-connectors">
<path class="s3" d="M67,-87Q80,-55 107,-33"/>
<path class="s2" d="M107,-33Q94,-65 67,-87"/>
<path class="s2" d="M67,-87Q71,-21 107,34"/>
<path class="ol" d="M107,34Q103,-32 67,-87"/>
<path class="d" d="M67,-87Q27,0 67,87"/>
<path class="o" d="M67,87Q90,0 67,-87"/>
<path class="s3" d="M107,-33Q98,0 107,34"/>
<path class="s3" d="M107,34Q116,0 107,-33"/>
<path class="dl" d="M107,-33Q71,22 67,87"/>
<path class="ol" d="M67,87Q103,32 107,-33"/>
<path class="s3" d="M107,34Q80,55 67,87"/>
<path class="ol" d="M67,87Q94,66 107,34"/>
<path class="lt" transform="translate(67,-87) rotate(-52)" d="M13.1,-6.2A10 10 0 1 1 13.1,6.2"/>
<path class="lm" transform="translate(107,-33) rotate(-17)" d="M13.1,-6.2A10 10 0 1 1 13.1,6.2"/>
<path class="lt" transform="translate(107,34) rotate(18)" d="M13.1,-6.2A10 10 0 1 1 13.1,6.2"/>
<path class="lt" transform="translate(67,87) rotate(52)" d="M13.1,-6.2A10 10 0 1 1 13.1,6.2"/>
</g>
<g id="r3c4-angry" class="nd" transform="translate(0,-108)"><circle r="14.5"/><text class="an">Angry</text></g>
<g id="r3c4-stressed" class="nd" transform="translate(-67,-86)"><circle r="14.5"/><text class="st">Stressed</text></g>
<g id="r3c4-excited" class="nd" transform="translate(67,-87)"><circle r="14.5"/><text class="ex">Excited</text></g>
<g id="r3c4-irritated" class="nd" transform="translate(-108,-33)"><circle r="14.5"/><text class="ir">Irritated</text></g>
<g id="r3c4-happy" class="nd" transform="translate(107,-33)"><circle r="14.5"/><text class="ha">Happy</text></g>
<g id="r3c4-anxious" class="nd" transform="translate(-108,34)"><circle r="14.5"/><text class="ax">Anxious</text></g>
<g id="r3c4-satisfied" class="nd" transform="translate(107,34)"><circle r="14.5"/><text class="sf">Satisfied</text></g>
<g id="r3c4-sad" class="nd" transform="translate(-67,88)"><circle r="14.5"/><text class="sa">Sad</text></g>
<g id="r3c4-relaxed" class="nd" transform="translate(67,88)"><circle r="14.5"/><text class="re">Relaxed</text></g>
<g id="r3c4-dysphoric" class="nd" transform="translate(0,108)"><circle r="14.5"/><text class="dy">Dysphoric</text></g>
</g>
</svg>
